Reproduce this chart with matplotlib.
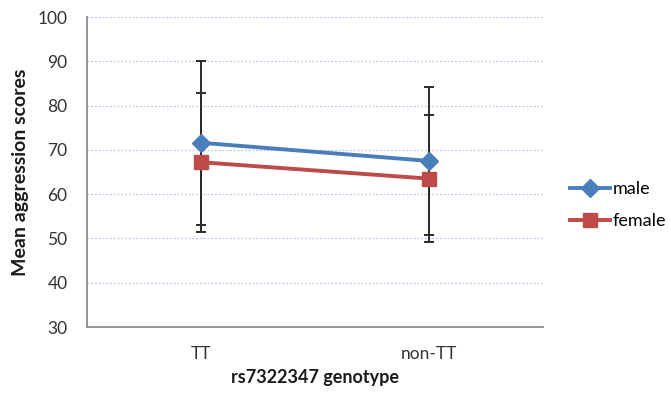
import matplotlib
matplotlib.use("Agg")
import matplotlib.pyplot as plt
from matplotlib.lines import Line2D

categories = ["TT", "non-TT"]
male_mean = [71.6, 67.5]
male_err = [18.5, 16.8]
female_mean = [67.2, 63.5]
female_err = [15.7, 14.4]
yticks = [30, 40, 50, 60, 70, 80, 90, 100]

plt.rcParams['font.family'] = ['Lato', 'DejaVu Sans']

fig = plt.figure(figsize=(6.71, 3.94), dpi=100)
ax = fig.add_axes([87/671, 1-327/394, (543-87)/671, (327-17)/394])

x = [0.5, 1.5]
blue = '#4a7ebb'
red = '#be4b48'

ax.errorbar(x, male_mean, yerr=male_err, fmt='none', ecolor='#2b2b2b', elinewidth=1.4, capsize=3.5, capthick=1.4, zorder=2)
ax.errorbar(x, female_mean, yerr=female_err, fmt='none', ecolor='#2b2b2b', elinewidth=1.4, capsize=3.5, capthick=1.4, zorder=2)
ax.plot(x, male_mean, color=blue, lw=2.8, marker='D', markersize=9, zorder=4, label='male')
ax.plot(x, female_mean, color=red, lw=2.8, marker='s', markersize=10, zorder=3, label='female')

ax.set_xlim(0, 2)
ax.set_ylim(30, 100)
ax.set_yticks(yticks)
ax.set_xticks(x)
ax.set_xticklabels(categories)
ax.tick_params(axis='both', length=0, labelsize=12.5, colors='#333333')
ax.tick_params(axis='y', pad=14)
ax.tick_params(axis='x', pad=14)
for yv in yticks[1:]:
    ax.axhline(yv, color='#b8c7e3', lw=0.9, ls=(0, (1.5, 1.5)), zorder=1)

for s in ['top', 'right']:
    ax.spines[s].set_visible(False)
for s in ['left', 'bottom']:
    ax.spines[s].set_color('#8c8c8c')
    ax.spines[s].set_linewidth(1.3)

ax.set_ylabel('Mean aggression scores', fontsize=14, fontweight='bold', color='#1a1a1a', va='center')
ax.yaxis.set_label_coords(-0.145, 0.498)
ax.set_xlabel('rs7322347 genotype', fontsize=13, fontweight='bold', color='#1a1a1a', va='top')
ax.xaxis.set_label_coords(0.5, -0.135)

handles = [Line2D([], [], color=blue, lw=2.8, marker='D', markersize=9),
           Line2D([], [], color=red, lw=2.8, marker='s', markersize=10)]
fig.legend(handles, ['male', 'female'], loc='center left', bbox_to_anchor=(570/671, 1-205/394),
           frameon=False, fontsize=13, handlelength=2.2, handletextpad=0.15, labelspacing=0.9,
           borderaxespad=0, borderpad=0)

fig.savefig('out.png', dpi=100)
